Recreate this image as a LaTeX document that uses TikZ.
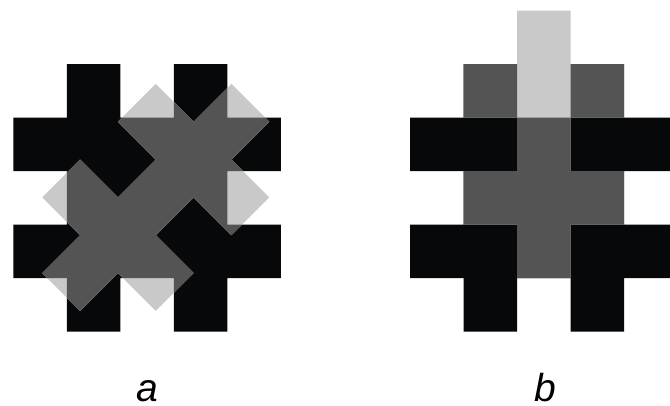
\documentclass[tikz,border=0pt]{standalone}
\usepackage{fontspec}
\setmainfont{Liberation Sans}
\definecolor{tileblack}{HTML}{060809}
\definecolor{lightg}{HTML}{C9C9C9}
\definecolor{darkg}{HTML}{545454}
\newcommand{\tilepath}{(0,1) rectangle (5,2) (0,3) rectangle (5,4) (1,0) rectangle (2,5) (3,0) rectangle (4,5) (1,1) rectangle (4,4)}
\newcommand{\dagpath}{(-0.5,-2.5) rectangle (0.5,2.5) (-1.5,-1.5) rectangle (1.5,-0.5) (-1.5,0.5) rectangle (1.5,1.5)}
\tikzset{lbl/.style={font=\fontsize{39}{42}\selectfont\itshape, anchor=base, inner sep=0pt, text depth=0pt, text height=22pt}}
\begin{document}
\begin{tikzpicture}[x=1pt,y=-1pt]
\clip (0,0) rectangle (670,406);
\fill[white] (0,0) rectangle (670,406);
% figure a
\begin{scope}[shift={(13.3pt,-64.2pt)}, x=53.5pt, y=-53.5pt]
  \fill[tileblack] \tilepath;
  \begin{scope}[shift={(142.5pt,-133.2pt)}, rotate=-45]
    \fill[lightg] \dagpath;
  \end{scope}
  \begin{scope}
    \clip \tilepath;
    \begin{scope}[shift={(142.5pt,-133.2pt)}, rotate=-45]
      \fill[darkg] \dagpath;
    \end{scope}
  \end{scope}
\end{scope}
% figure b
\begin{scope}[shift={(410pt,-64.2pt)}, x=53.5pt, y=-53.5pt]
  \fill[tileblack] \tilepath;
  \begin{scope}[shift={(2.5,1.5)}]
    \fill[lightg] \dagpath;
  \end{scope}
  \begin{scope}
    \clip \tilepath;
    \begin{scope}[shift={(2.5,1.5)}]
      \fill[darkg] \dagpath;
    \end{scope}
  \end{scope}
\end{scope}
\node[lbl] (la) at (147,401) {a};
\node[lbl] (lb) at (545,401) {b};
\end{tikzpicture}
\end{document}
